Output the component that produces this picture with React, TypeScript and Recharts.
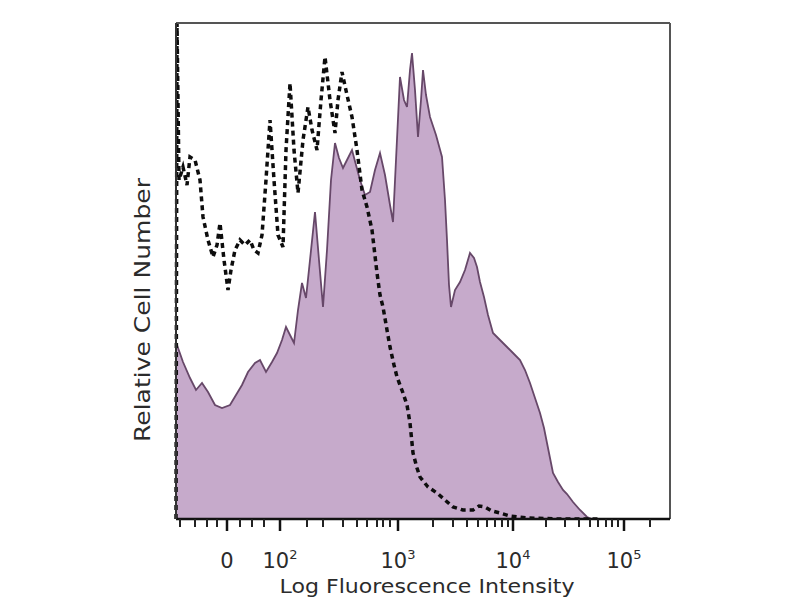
import { ComposedChart, Area, Line, XAxis, YAxis, ReferenceLine } from "recharts"

// channel = position along the log axis, count = relative cell number
const stained: [number, number][] = [
  [1, 174], [7, 157], [14, 141], [20, 129], [26, 136], [32, 127], [39, 114], [46, 111],
  [54, 114], [60, 124], [66, 134], [72, 147], [79, 156], [84, 159], [90, 147], [96, 157],
  [101, 166], [106, 179], [110, 192], [114, 184], [118, 176], [122, 209], [126, 236], [130, 221],
  [134, 259], [139, 307], [143, 259], [147, 212], [151, 269], [155, 339], [159, 376], [163, 361],
  [167, 351], [171, 359], [176, 369], [180, 354], [184, 339], [189, 324], [194, 327], [199, 349],
  [204, 366], [209, 344], [214, 314], [217, 297], [220, 359], [224, 442], [228, 419], [231, 412],
  [234, 449], [236, 466], [239, 429], [242, 382], [245, 419], [247, 449], [250, 424], [254, 402],
  [260, 384], [266, 362], [269, 319], [271, 279], [273, 234], [275, 212], [279, 229], [284, 237],
  [289, 249], [294, 266], [298, 261], [301, 252], [304, 237], [308, 222], [312, 204], [317, 186],
  [322, 181], [327, 176], [332, 171], [338, 165], [344, 159], [349, 149], [354, 136], [359, 121],
  [364, 106], [368, 91], [371, 76], [374, 61], [377, 46], [382, 37], [387, 29], [391, 25],
  [397, 17], [404, 9], [411, 2], [416, 0], [494, 0],
]

const isotype: [number, number][] = [
  [0, 0], [1, 496], [3, 339], [7, 352], [11, 334], [14, 362], [19, 359], [24, 339],
  [27, 302], [32, 279], [37, 262], [41, 274], [44, 296], [48, 259], [52, 229], [55, 249],
  [59, 269], [64, 279], [69, 274], [74, 279], [78, 269], [82, 266], [86, 284], [90, 339],
  [94, 399], [98, 339], [102, 284], [107, 272], [110, 369], [114, 436], [118, 369], [122, 326],
  [127, 379], [132, 412], [136, 389], [141, 369], [145, 419], [149, 462], [154, 419], [159, 386],
  [162, 419], [166, 447], [171, 424], [176, 402], [181, 369], [186, 329], [191, 312], [196, 289],
  [201, 246], [204, 224], [207, 212], [211, 189], [214, 172], [218, 154], [221, 142], [227, 126],
  [231, 114], [234, 96], [237, 66], [241, 51], [244, 42], [252, 32], [261, 26], [269, 19],
  [277, 12], [287, 9], [297, 9], [303, 13], [309, 12], [316, 8], [324, 6], [334, 3],
  [351, 1], [384, 0], [424, 0],
]

const majorTicks = [51, 104, 222, 337, 448]
const majorLabels = ["0", "10^2", "10^3", "10^4", "10^5"]
const minorTicks = [
  4, 19, 31, 41, 64, 76, 88,
  131, 147, 167, 181, 191, 201, 207, 214,
  257, 277, 291, 302, 311, 319, 326, 332,
  370, 389, 403, 414, 422, 430, 436, 442, 474,
]

const stainedData = stained.map(([ch, count]) => ({ ch, count }))
const isotypeData = isotype.map(([ch, count]) => ({ ch, count }))
const allTicks = [...majorTicks, ...minorTicks].sort((a, b) => a - b)

const font = "'DejaVu Sans', Verdana, sans-serif"

function FluorTick(props: any) {
  const { x, y, payload } = props
  const i = majorTicks.indexOf(payload.value)
  if (i < 0) {
    return <line x1={x} x2={x} y1={y} y2={y + 8} stroke="#222" strokeWidth={2} />
  }
  const [base, exp] = majorLabels[i].split("^")
  return (
    <g>
      <line x1={x} x2={x} y1={y} y2={y + 12} stroke="#111" strokeWidth={2.5} />
      <text x={x} y={y + 49} textAnchor="middle" fontFamily={font} fontSize={21} fill="#2b2b2b">
        <tspan>{base}</tspan>
        {exp && <tspan dy={-9} fontSize={13}>{exp}</tspan>}
      </text>
    </g>
  )
}

export default function App() {
  return (
    <div style={{ position: "absolute", left: 0, top: 0, width: 800, height: 600, background: "#fff" }}>
      <ComposedChart width={800} height={600} margin={{ top: 23, right: 130, left: 108, bottom: 0 }}>
        <XAxis
          type="number"
          dataKey="ch"
          domain={[0, 494]}
          ticks={allTicks}
          interval={0}
          height={81}
          tickSize={0}
          tickMargin={0}
          tickLine={false}
          tick={(p: any) => <FluorTick {...p} />}
          axisLine={{ stroke: "#111", strokeWidth: 2.5 }}
          label={{
            content: () => (
              <text x={427} y={593} textAnchor="middle" fontFamily={font} fontSize={20}
                fill="#2b2b2b" textLength={295} lengthAdjust="spacingAndGlyphs">
                Log Fluorescence Intensity
              </text>
            ),
          }}
        />
        <YAxis
          type="number"
          domain={[0, 496]}
          allowDataOverflow
          width={68}
          tick={false}
          tickLine={false}
          axisLine={{ stroke: "#333", strokeWidth: 2 }}
          label={{
            content: () => (
              <text transform="translate(150,310) rotate(-90)" x={0} y={0} textAnchor="middle"
                fontFamily={font} fontSize={22} fill="#2b2b2b" textLength={264} lengthAdjust="spacingAndGlyphs">
                Relative Cell Number
              </text>
            ),
          }}
        />
        <Area
          data={stainedData}
          dataKey="count"
          type="linear"
          fill="#c6aacb"
          fillOpacity={1}
          stroke="#674869"
          strokeWidth={1.8}
          isAnimationActive={false}
        />
        <Line
          data={isotypeData}
          dataKey="count"
          type="linear"
          stroke="#0d0d0d"
          strokeWidth={3.5}
          strokeDasharray="5 4"
          dot={false}
          isAnimationActive={false}
        />
        <ReferenceLine y={496} stroke="#555" strokeWidth={2} />
        <ReferenceLine x={494} stroke="#555" strokeWidth={2} />
      </ComposedChart>
    </div>
  )
}
